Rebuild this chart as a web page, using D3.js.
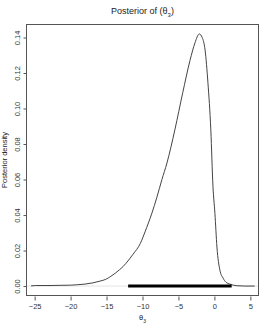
<!DOCTYPE html>
<html>
<head>
<meta charset="utf-8">
<script src="https://cdn.jsdelivr.net/npm/d3@7"></script>
<style>
  body { margin: 0; background: #fff; }
  text { font-family: "Liberation Sans", Arial, sans-serif; fill: #222; }
</style>
</head>
<body>
<div id="chart"></div>
<script>
// posterior density of theta3
var theta = [-25.5, -24.9, -23, -21.6, -20, -19.2, -18, -16.9, -15.9, -15.1, -14.4, -13.8, -13.2, -12.7, -12.3,
             -11.3, -10.3, -9.65, -8.7, -8.0, -7.3, -6.6, -5.5, -4.4, -3.4, -2.7, -2.1, -1.7, -1.3, -0.9,
             -0.5, -0.2, 0.07, 0.35, 0.76, 1.2, 1.6, 2.15, 3.1, 4.2, 5.6];
var density = [0.0001, 0.0003, 0.0003, 0.0004, 0.0005, 0.0007, 0.0011, 0.0018, 0.0028, 0.0038, 0.0055, 0.0072, 0.0092, 0.0110, 0.0128,
               0.0180, 0.0240, 0.0305, 0.041, 0.050, 0.060, 0.0693, 0.088, 0.109, 0.127, 0.137, 0.142, 0.140, 0.133, 0.1144,
               0.088, 0.056, 0.041, 0.022, 0.009, 0.0045, 0.0022, 0.0011, 0.0002, 0.0000, 0.0000];
var interval = [-12.0, 2.4];
var xTicks = [-25, -20, -15, -10, -5, 0, 5];
var yTicks = [0.00, 0.02, 0.04, 0.06, 0.08, 0.10, 0.12, 0.14];

var width = 273, height = 327;
var margin = {top: 24, right: 14, bottom: 31, left: 26};

var svg = d3.select('#chart').append('svg')
            .attr('width', width)
            .attr('height', height);

var x = d3.scaleLinear()
          .domain([-26.2, 6.2])
          .range([margin.left, width - margin.right]);
var y = d3.scaleLinear()
          .domain([-0.0056, 0.1476])
          .range([height - margin.bottom, margin.top]);

// light zero line
svg.append('line')
   .attr('x1', x.range()[0]).attr('x2', x.range()[1])
   .attr('y1', y(0)).attr('y2', y(0))
   .style('stroke', '#e4e4e4')
   .style('stroke-width', 1);

// density curve
var line = d3.line()
             .x(function(d, i) { return x(theta[i]); })
             .y(function(d) { return y(d); })
             .curve(d3.curveMonotoneX);

svg.append('path')
   .datum(density)
   .attr('d', line)
   .style('fill', 'none')
   .style('stroke', '#444')
   .style('stroke-width', 1);

// interval bar
svg.append('line')
   .attr('x1', x(interval[0])).attr('x2', x(interval[1]))
   .attr('y1', y(0)).attr('y2', y(0))
   .style('stroke', '#000')
   .style('stroke-width', 3);

// box
svg.append('rect')
   .attr('x', margin.left + 0.5)
   .attr('y', margin.top + 0.5)
   .attr('width', width - margin.left - margin.right - 1)
   .attr('height', height - margin.top - margin.bottom - 1)
   .style('fill', 'none')
   .style('stroke', '#555')
   .style('stroke-width', 1);

var fmtX = function(d) { return d < 0 ? '\u2212' + Math.abs(d) : String(d); };

var xAxis = svg.append('g')
               .attr('transform', 'translate(0,' + (height - margin.bottom + 0.5) + ')')
               .call(d3.axisBottom(x).tickValues(xTicks).tickFormat(fmtX).tickSize(4).tickPadding(3));
xAxis.select('.domain').remove();
xAxis.selectAll('line').style('stroke', '#555');
xAxis.selectAll('text').attr('fill', '#333').style('font-size', '7.5px').style('fill', '#333');

var yAxis = svg.append('g')
               .attr('transform', 'translate(' + (margin.left + 0.5) + ',0)')
               .call(d3.axisLeft(y).tickValues(yTicks).tickFormat(d3.format('.2f')).tickSize(3));
yAxis.select('.domain').remove();
yAxis.selectAll('line').style('stroke', '#555');
yAxis.selectAll('text')
     .attr('x', null).attr('dy', null)
     .attr('text-anchor', 'middle')
     .attr('transform', 'translate(-7,0) rotate(-90)')
     .attr('y', 0)
     .attr('fill', '#333')
     .style('font-size', '7.5px')
     .style('fill', '#333');

// title and labels
svg.append('text')
   .attr('x', (margin.left + width - margin.right) / 2)
   .attr('y', 14)
   .attr('text-anchor', 'middle')
   .style('font-size', '9px')
   .html('Posterior of (\u03b8<tspan baseline-shift="sub" font-size="6px">3</tspan>)');

svg.append('text')
   .attr('x', (margin.left + width - margin.right) / 2)
   .attr('y', 320)
   .attr('text-anchor', 'middle')
   .style('font-size', '7.5px')
   .html('\u03b8<tspan baseline-shift="sub" font-size="5px">3</tspan>');

svg.append('text')
   .attr('transform', 'translate(7,' + ((margin.top + height - margin.bottom) / 2) + ') rotate(-90)')
   .attr('text-anchor', 'middle')
   .style('font-size', '7.5px')
   .text('Posterior density');
</script>
</body>
</html>
